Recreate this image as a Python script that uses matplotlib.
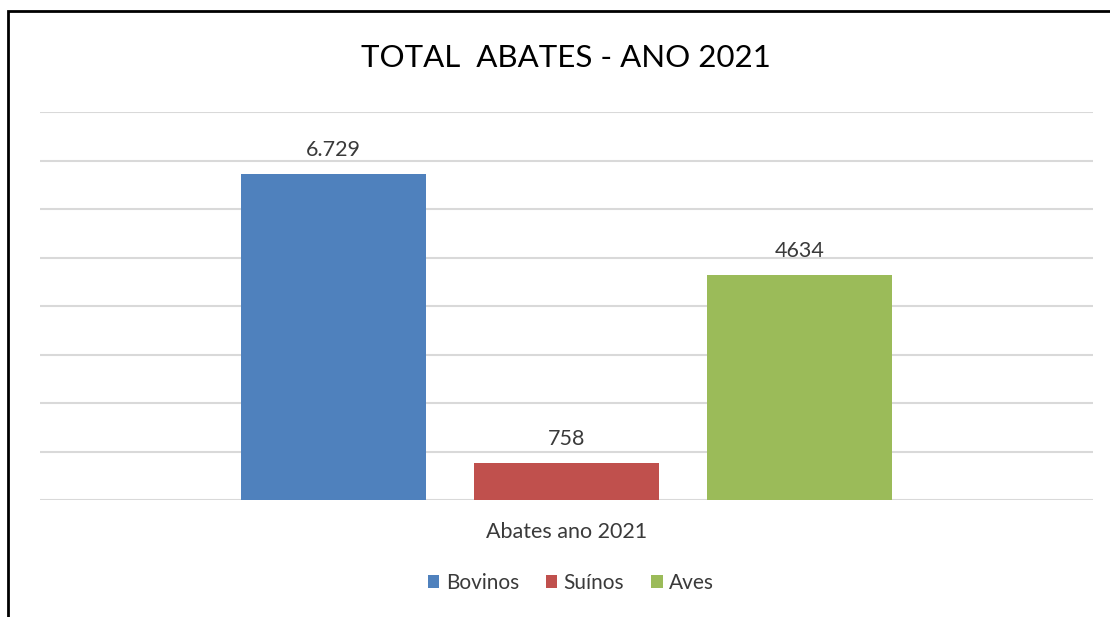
import matplotlib.pyplot as plt
from matplotlib.patches import Rectangle

# dados
categorias = ["Bovinos", "Suínos", "Aves"]
valores = [6729, 758, 4634]
rotulos = ["6.729", "758", "4634"]
cores = ["#4f81bd", "#c0504d", "#9bbb59"]

plt.rcParams['font.family'] = ['Lato', 'DejaVu Sans']

fig = plt.figure(figsize=(11.1, 6.17), dpi=100)
ax = fig.add_axes([40/1110, 1-500/617, (1093-40)/1110, (500-112)/617])

x = range(len(categorias))
barras = ax.bar(x, valores, width=0.794, color=cores, label=categorias, zorder=3)

for b, r in zip(barras, rotulos):
    ax.annotate(r, (b.get_x() + b.get_width()/2, b.get_height()), xytext=(0, 10),
                textcoords="offset points", ha="center", va="bottom",
                fontsize=15.5, color="#3a3a3a")

ax.set_ylim(0, 8000)
ax.set_xlim(-1.257, 3.257)
ax.set_yticks(range(0, 8001, 1000))
ax.yaxis.grid(True, color="#d9d9d9", linewidth=1.5, zorder=0)
ax.tick_params(left=False, bottom=False, labelleft=False, labelbottom=False)
for s in ax.spines.values():
    s.set_visible(False)

fig.text(566/1110, 1-58/617, "TOTAL  ABATES - ANO 2021", ha="center", va="center",
         fontsize=22.5, color="#000000")
fig.text(567/1110, 1-532/617, "Abates ano 2021", ha="center", va="center",
         fontsize=15.5, color="#3a3a3a")

fig.legend(handles=barras, labels=categorias, loc="center", bbox_to_anchor=(571/1110, 1-583/617),
           ncol=3, frameon=False, fontsize=15, handlelength=0.55, handleheight=0.55,
           handletextpad=0.3, columnspacing=1.3, labelcolor="#3a3a3a")

fig.patches.append(Rectangle((8/1110, -0.1), 1.2, 1.1 - 11/617, transform=fig.transFigure,
                             fill=False, edgecolor="black", linewidth=2))

fig.savefig("out.png", dpi=100)
